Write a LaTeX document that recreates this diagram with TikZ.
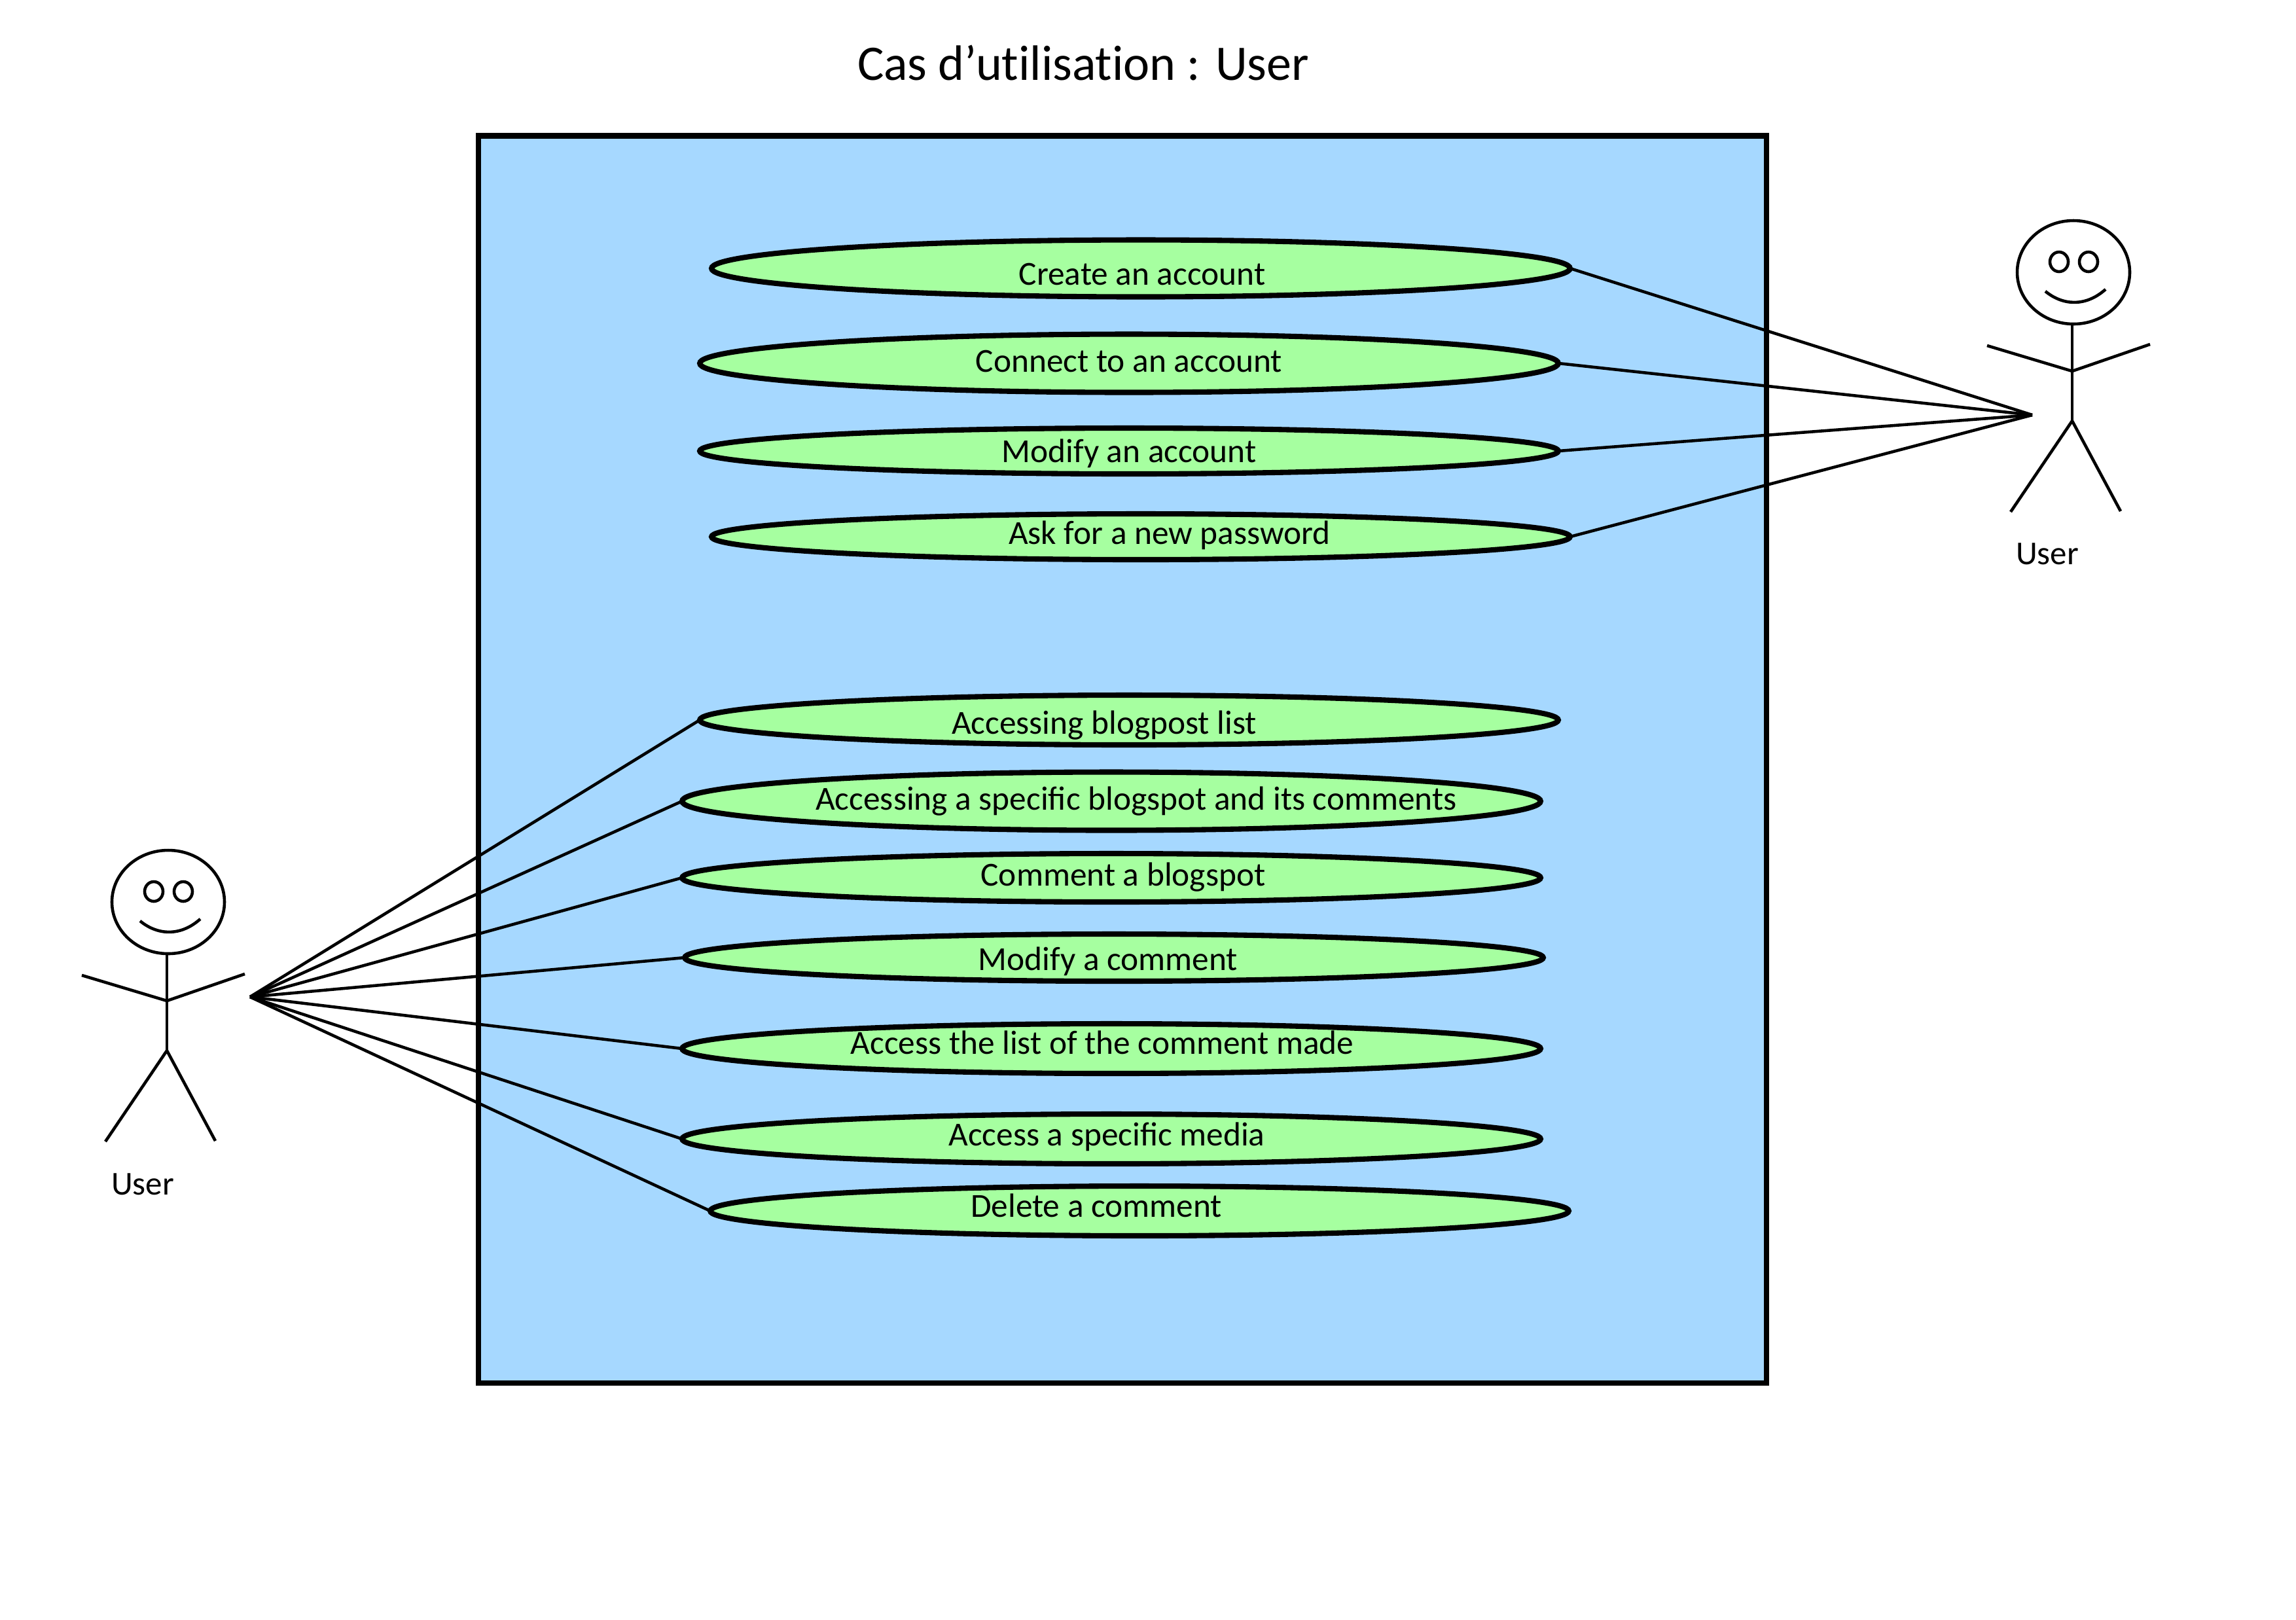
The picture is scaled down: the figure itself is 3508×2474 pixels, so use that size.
\documentclass[tikz,border=0pt]{standalone}
\usepackage{fontspec}
\setmainfont{Carlito}
\usetikzlibrary{shapes.geometric}
\definecolor{boxblue}{RGB}{166,216,255}
\definecolor{ucgreen}{RGB}{166,255,160}
\tikzset{
  usecase/.style={ellipse,draw=black,fill=ucgreen,line width=2.3pt,inner sep=0pt,outer sep=0pt,minimum width=13.11cm,minimum height=#1*0.01cm+0.08cm},
  uclabel/.style={font=\fontsize{14.6}{18}\selectfont,inner sep=0pt,anchor=mid},
  assoc/.style={line width=1.3pt},
  limb/.style={line width=1.3pt},
  actorlabel/.style={font=\fontsize{14.5}{17}\selectfont,inner sep=0pt,anchor=mid},
}
\tikzset{
  pics/actor/.style={code={
    \draw[limb] (0,0) ellipse [x radius=86,y radius=79];
    \draw[limb] (-22,-16) ellipse [x radius=14,y radius=15];
    \draw[limb] (23,-16) ellipse [x radius=14,y radius=15];
    \draw[limb] (-43,29) .. controls (-15,52) and (20,52) .. (49,26);
    \draw[limb] (-2,80) -- (-2,227);
    \draw[limb] (-132,112) -- (-2,151) -- (117,110);
    \draw[limb] (-96,366) -- (-2,227) -- (72,365);
  }}
}
\begin{document}
\begin{tikzpicture}[x=0.01cm,y=-0.01cm]
\useasboundingbox (0,0) rectangle (3508,2474);
\node[font=\fontsize{21.6}{26}\selectfont\addfontfeature{Ligatures=NoCommon},inner sep=0pt,anchor=mid] (title) at (1655,114) {Cas d’utilisation : User};
\node[draw=black,fill=boxblue,line width=2.3pt,inner sep=0pt,outer sep=0pt,minimum width=19.67cm,minimum height=19.04cm] (system) at (1715,1160) {};

\node[usecase=79] (u1) at (1743,410) {};
\node[usecase=81] (u2) at (1725,555) {};
\node[usecase=62] (u3) at (1725,689) {};
\node[usecase=62] (u4) at (1743,820) {};
\node[usecase=68] (u5) at (1725,1100) {};
\node[usecase=81] (u6) at (1698,1224) {};
\node[usecase=66] (u7) at (1698,1341) {};
\node[usecase=64] (u8) at (1702,1463) {};
\node[usecase=68] (u9) at (1698,1602) {};
\node[usecase=68] (u10) at (1698,1740) {};
\node[usecase=68] (u11) at (1741,1850) {};

\node[uclabel] (t1) at (1745,427) {Create an account};
\node[uclabel] (t2) at (1725,560) {Connect to an account};
\node[uclabel] (t3) at (1725,698) {Modify an account};
\node[uclabel] (t4) at (1787,823) {Ask for a new password};
\node[uclabel] (t5) at (1687,1113) {Accessing blogpost list};
\node[uclabel] (t6) at (1736,1229) {Accessing a specific blogspot and its comments};
\node[uclabel] (t7) at (1716,1345) {Comment a blogspot};
\node[uclabel] (t8) at (1693,1474) {Modify a comment};
\node[uclabel] (t9) at (1684,1602) {Access the list of the comment made};
\node[uclabel] (t10) at (1691,1742) {Access a specific media};
\node[uclabel] (t11) at (1675,1851) {Delete a comment};

\pic at (3168,416) {actor};
\pic at (257,1378) {actor};
\node[actorlabel] (a1) at (3128,854) {User};
\node[actorlabel] (a2) at (218,1817) {User};
\coordinate (rc) at (3105,634);
\coordinate (lc) at (382,1523);

\foreach \n in {1,2,3,4} \draw[assoc] (u\n.east) -- (rc);
\draw[assoc] (lc) -- (u5.west);
\draw[assoc] (lc) -- (u6.west);
\draw[assoc] (lc) -- (u7.west);
\draw[assoc] (lc) -- (u8.west);
\draw[assoc] (lc) -- (u9.west);
\draw[assoc] (lc) -- (u10.west);
\draw[assoc] (lc) -- (u11.west);
\end{tikzpicture}
\end{document}
